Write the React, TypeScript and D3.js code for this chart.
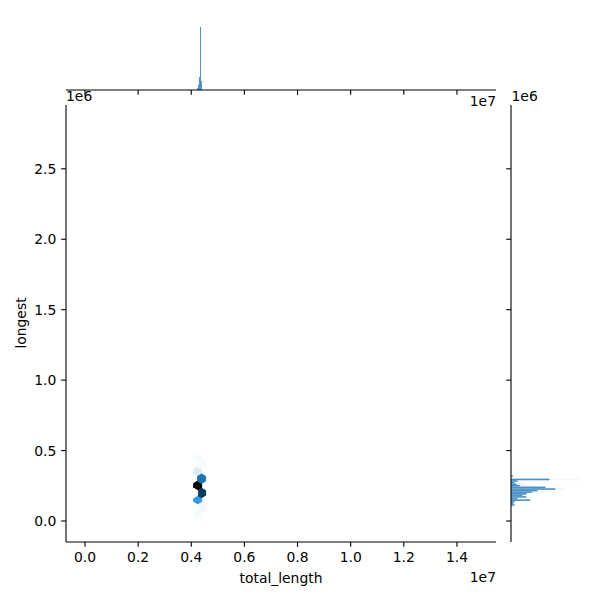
import React from "react";
import * as d3 from "d3";

// ---- data (x in units of 1e7, y in units of 1e6) ----
const xTicks = [0, 0.2, 0.4, 0.6, 0.8, 1.0, 1.2, 1.4];
const yTicks = [0, 0.5, 1.0, 1.5, 2.0, 2.5];

// hexbin cells (centres) and counts
const hexX = [0.424, 0.424, 0.424, 0.424, 0.424, 0.439, 0.439, 0.439, 0.439, 0.439, 0.439, 0.409, 0.409, 0.424];
const hexY = [0.452, 0.351, 0.25, 0.149, 0.048, 0.502, 0.401, 0.3, 0.199, 0.098, -0.003, 0.199, 0.098, 0.553];
const hexCount = [2, 6, 60, 28, 2, 1, 2, 36, 48, 3, 1, 1, 1, 1];
const hexSx = 0.03; // hex width, 1e7 units
const hexSy = 0.101; // lattice row spacing, 1e6 units

// top marginal histogram (total_length)
const xBinCenters = [0.4235, 0.4272, 0.4309, 0.4347, 0.4384];
const xBinCounts = [30, 80, 208, 1008, 144];
const xBinWidth = 0.0037;

// right marginal histogram (longest)
const yBinCenters = [0.319, 0.295, 0.284, 0.273, 0.261, 0.25, 0.239, 0.227, 0.216, 0.205, 0.193, 0.182, 0.171, 0.159, 0.148, 0.137, 0.125, 0.114];
const yBinCounts = [30, 616, 104, 56, 88, 140, 552, 707, 424, 339, 248, 184, 243, 104, 307, 56, 40, 56];
const yFaintCenters = [0.295, 0.261, 0.25, 0.227, 0.205];
const yFaintCounts = [1096, 232, 392, 856, 696];
const yBinWidth = 0.0113;

const xLabel = "total_length";
const yLabel = "longest";

// ---- colormap: seaborn hex cmap from white through C0 to black ----
const base = d3.hsl("#1f77b4");
const lightSteps = d3.range(12).map((i) => 1 - i / 11);
const cmapColors = lightSteps.map((l) => d3.rgb(d3.hsl(base.h, base.s, l)).formatHex());
const cmap = d3
  .scaleLinear<string>()
  .domain(lightSteps.map((_, i) => i / 11))
  .range(cmapColors)
  .interpolate(d3.interpolateRgb)
  .clamp(true);

export default function App() {
  const font = "DejaVu Sans, sans-serif";
  const fs = 13.9;
  const x = d3.scaleLinear().domain([-0.0715, 1.547]).range([66, 496]);
  const y = d3.scaleLinear().domain([-0.149, 2.953]).range([542, 105]);
  const topY = d3.scaleLinear().domain([0, 1200]).range([90, 15]);
  const rightX = d3.scaleLinear().domain([0, 1200]).range([511, 586]);

  const cMin = d3.min(hexCount)!;
  const cMax = d3.max(hexCount)!;
  const hexOffX = [0.5, 0.5, 0, -0.5, -0.5, 0].map((v) => v * hexSx);
  const hexOffY = [-0.5, 0.5, 1, 0.5, -0.5, -1].map((v) => (v * hexSy) / 3);

  const tickLen = 4.86;
  const lw = 1.1;
  const barFill = "#4a90c4";

  return (
    <svg
      width={600}
      height={600}
      style={{ position: "absolute", left: 0, top: 0, background: "#fff" }}
      fontFamily={font}
      fontSize={fs}
    >
      <rect width={600} height={600} fill="#fff" />
      {/* hexbin */}
      {hexX.map((cx, i) => {
        const t = (hexCount[i] - cMin) / (cMax - cMin);
        const col = cmap(t);
        const pts = hexOffX.map((dx, k) => `${x(cx + dx)},${y(hexY[i] + hexOffY[k])}`).join(" ");
        return <polygon key={"h" + i} points={pts} fill={col} stroke={col} strokeWidth={1} />;
      })}

      {/* top marginal histogram */}
      {xBinCenters.map((c, i) => (
        <rect
          key={"xb" + i}
          x={x(c - xBinWidth / 2)}
          width={x(c + xBinWidth / 2) - x(c - xBinWidth / 2)}
          y={topY(xBinCounts[i])}
          height={topY(0) - topY(xBinCounts[i])}
          fill={barFill}
        />
      ))}

      {/* right marginal histogram */}
      {yFaintCenters.map((c, i) => (
        <rect
          key={"yf" + i}
          x={rightX(0)}
          width={rightX(yFaintCounts[i]) - rightX(0)}
          y={y(c + yBinWidth / 2)}
          height={y(c - yBinWidth / 2) - y(c + yBinWidth / 2)}
          fill={barFill}
          opacity={0.08}
        />
      ))}
      {yBinCenters.map((c, i) => (
        <rect
          key={"yb" + i}
          x={rightX(0)}
          width={rightX(yBinCounts[i]) - rightX(0)}
          y={y(c + yBinWidth / 2)}
          height={y(c - yBinWidth / 2) - y(c + yBinWidth / 2)}
          fill={barFill}
        />
      ))}

      {/* main axes spines */}
      <line x1={66} x2={66} y1={105} y2={542} stroke="#000" strokeWidth={lw} />
      <line x1={66} x2={496} y1={542} y2={542} stroke="#000" strokeWidth={lw} />
      {/* top marginal spine */}
      <line x1={66} x2={496} y1={90} y2={90} stroke="#000" strokeWidth={lw} />
      {/* right marginal spine */}
      <line x1={511} x2={511} y1={105} y2={542} stroke="#000" strokeWidth={lw} />

      {/* x ticks */}
      {xTicks.map((t) => (
        <g key={"xt" + t}>
          <line x1={x(t)} x2={x(t)} y1={542} y2={542 + tickLen} stroke="#000" strokeWidth={lw} />
          <line x1={x(t)} x2={x(t)} y1={90} y2={90 + tickLen} stroke="#000" strokeWidth={lw} />
          <text x={x(t)} y={562} textAnchor="middle">
            {t.toFixed(1)}
          </text>
        </g>
      ))}
      {/* y ticks */}
      {yTicks.map((t) => (
        <g key={"yt" + t}>
          <line x1={66 - tickLen} x2={66} y1={y(t)} y2={y(t)} stroke="#000" strokeWidth={lw} />
          <line x1={511 - tickLen} x2={511} y1={y(t)} y2={y(t)} stroke="#000" strokeWidth={lw} />
          <text x={66 - tickLen - 4.86} y={y(t) + 5} textAnchor="end">
            {t.toFixed(1)}
          </text>
        </g>
      ))}

      {/* offset texts */}
      <text x={66} y={101}>1e6</text>
      <text x={511.5} y={101}>1e6</text>
      <text x={496} y={106} textAnchor="end">1e7</text>
      <text x={496} y={582} textAnchor="end">1e7</text>

      {/* axis labels */}
      <text x={281} y={583} textAnchor="middle">
        {xLabel}
      </text>
      <text transform={`translate(26,323) rotate(-90)`} textAnchor="middle">
        {yLabel}
      </text>
    </svg>
  );
}
